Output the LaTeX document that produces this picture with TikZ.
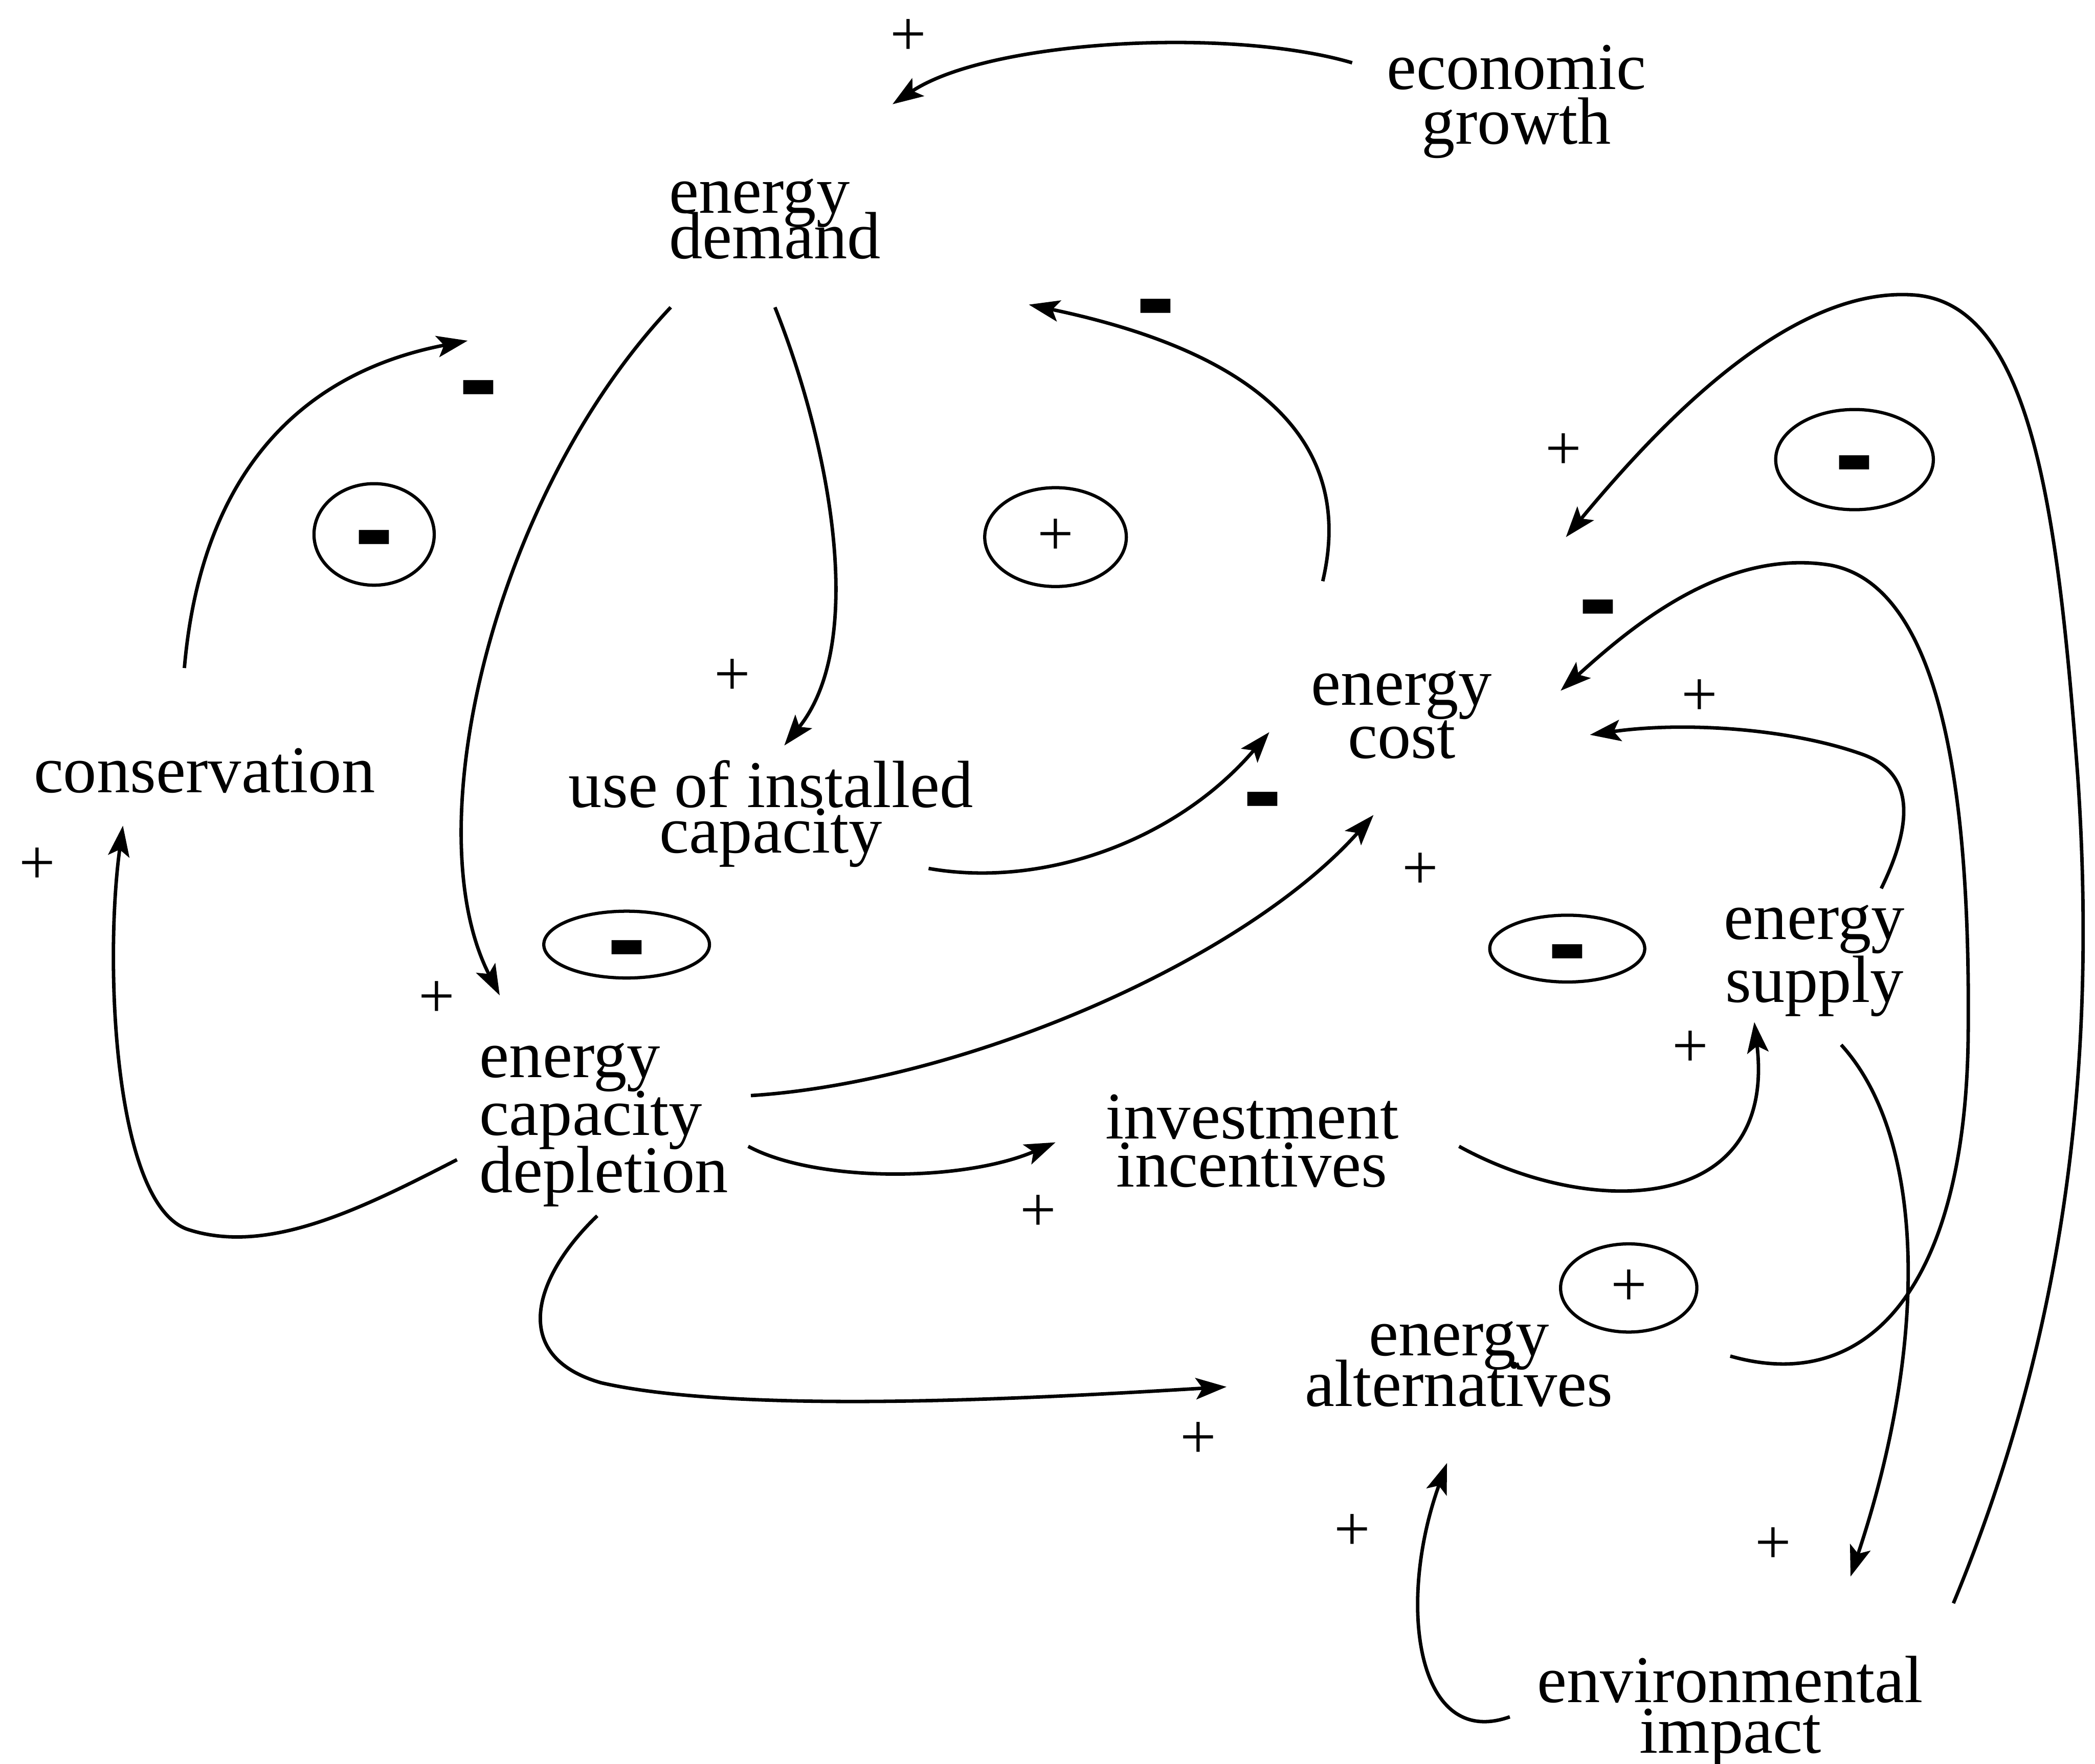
\documentclass[tikz,border=0pt]{standalone}
\usepackage{fontspec}
\usepackage{graphicx}
\setmainfont{Liberation Serif}
\usetikzlibrary{arrows.meta,shapes.geometric}
\newcommand\mbar{{\fontsize{42}{42}\selectfont\raisebox{-52.3pt}[5pt][5pt]{\scalebox{1.15}[3.6]{\bfseries −}}}}
\begin{document}
\begin{tikzpicture}[x=1pt,y=-1pt,
  lbl/.style={inner sep=0pt, align=center},
  fs/.style={font={\fontsize{50}{#1}\selectfont\lineskiplimit=-200pt}},
  arr/.style={line width=2.6pt, -{Stealth[length=23pt,width=16pt,inset=5pt]}},
  pl/.style={font=\fontsize{48}{48}\selectfont, inner sep=0pt},
  mn/.style={inner sep=0pt},
  loopc/.style={ellipse, draw, line width=2.4pt, inner sep=0pt, font=\fontsize{48}{48}\selectfont}
]
\useasboundingbox (0,0) rectangle (1568,1320);

% variables
\node[lbl, fs=41] (growth) at (1135,76) {economic\\growth};
\node[lbl, fs=34, align=left] (demand) at (580,164) {energy\\demand};
\node[lbl, fs=40] (cons) at (153,577) {conservation};
\node[lbl, fs=34] (use) at (577,609) {use of installed\\capacity};
\node[lbl, fs=40] (cost) at (1049,535) {energy\\cost};
\node[lbl, fs=43, align=left] (depl) at (452,842) {energy\\capacity\\depletion};
\node[lbl, fs=36] (inv) at (937,854) {investment\\incentives};
\node[lbl, fs=47] (supply) at (1358,719) {energy\\supply};
\node[lbl, fs=38] (alt) at (1092,1021) {energy\\alternatives};
\node[lbl, fs=38] (env) at (1295,1281) {environmental\\impact};

% loop markers
\node[loopc, minimum width=90pt, minimum height=76pt] (l1) at (280,400) {\mbar};
\node[loopc, minimum width=106pt, minimum height=74pt] (l2) at (790,402) {+};
\node[loopc, minimum width=118pt, minimum height=75pt] (l3) at (1388,344) {\mbar};
\node[loopc, minimum width=124pt, minimum height=50pt] (l4) at (469,707) {\mbar};
\node[loopc, minimum width=116pt, minimum height=50pt] (l5) at (1173,710) {\mbar};
\node[loopc, minimum width=102pt, minimum height=66pt] (l6) at (1219,964) {+};

% connectors
\draw[arr] ([shift={(-123,-29)}]growth.center) .. controls (920,20) and (740,30) .. ([shift={(88,-86)}]demand.center);
\draw[arr] ([shift={(0,66)}]demand.center) .. controls (620,330) and (650,480) .. ([shift={(10,-51)}]use.center);
\draw[arr] ([shift={(-78,66)}]demand.center) .. controls (370,370) and (310,620) .. ([shift={(-78,-97)}]depl.center);
\draw[arr] ([shift={(-15,-77)}]cons.center) .. controls (150,360) and (220,280) .. ([shift={(-230,91)}]demand.center);
\draw[arr] ([shift={(-110,26)}]depl.center) .. controls (270,905) and (200,940) .. (140,920) .. controls (85,900) and (78,720) .. ([shift={(-61,41)}]cons.center);
\draw[arr] ([shift={(-59,-100)}]cost.center) .. controls (1010,350) and (970,270) .. ([shift={(190,64)}]demand.center);
\draw[arr] ([shift={(118,41)}]use.center) .. controls (780,665) and (880,630) .. ([shift={(-99,13)}]cost.center);
\draw[arr] ([shift={(110,-22)}]depl.center) .. controls (720,810) and (930,720) .. ([shift={(-21,75)}]cost.center);
\draw[arr] ([shift={(108,16)}]depl.center) .. controls (610,885) and (720,885) .. ([shift={(-147,1)}]inv.center);
\draw[arr] ([shift={(-5,68)}]depl.center) .. controls (400,955) and (380,1015) .. (450,1035) .. controls (560,1060) and (800,1045) .. ([shift={(-174,17)}]alt.center);
\draw[arr] ([shift={(155,4)}]inv.center) .. controls (1190,912) and (1330,910) .. ([shift={(-45,46)}]supply.center);
\draw[arr] ([shift={(50,-54)}]supply.center) .. controls (1430,620) and (1435,580) .. (1395,565) .. controls (1340,545) and (1260,540) .. ([shift={(141,15)}]cost.center);
\draw[arr] ([shift={(203,-6)}]alt.center) .. controls (1400,1045) and (1470,960) .. (1473,780) .. controls (1475,620) and (1460,440) .. (1370,423) .. controls (1290,410) and (1220,470) .. ([shift={(119,-18)}]cost.center);
\draw[arr] ([shift={(167,-81)}]env.center) .. controls (1545,1000) and (1570,800) .. (1555,580) .. controls (1540,380) and (1520,230) .. (1435,221) .. controls (1340,212) and (1240,320) .. ([shift={(123,-133)}]cost.center);
\draw[arr] ([shift={(20,63)}]supply.center) .. controls (1440,850) and (1445,1000) .. ([shift={(90,-101)}]env.center);
\draw[arr] ([shift={(-165,4)}]env.center) .. controls (1060,1310) and (1045,1200) .. ([shift={(-9,74)}]alt.center);

% link signs
\node[pl] (p1) at (680,28) {+};
\node[pl] (p2) at (548,507) {+};
\node[pl] (p3) at (327,748) {+};
\node[pl] (p4) at (28,648) {+};
\node[pl] (p5) at (1063,652) {+};
\node[pl] (p6) at (777,908) {+};
\node[pl] (p7) at (897,1078) {+};
\node[pl] (p8) at (1265,785) {+};
\node[pl] (p9) at (1272,522) {+};
\node[pl] (p10) at (1170,338) {+};
\node[pl] (p11) at (1327,1157) {+};
\node[pl] (p12) at (1012,1147) {+};
\node[mn] (m1) at (358,288) {\mbar};
\node[mn] (m2) at (865,227) {\mbar};
\node[mn] (m3) at (945,596) {\mbar};
\node[mn] (m4) at (1196,452) {\mbar};
\end{tikzpicture}
\end{document}
